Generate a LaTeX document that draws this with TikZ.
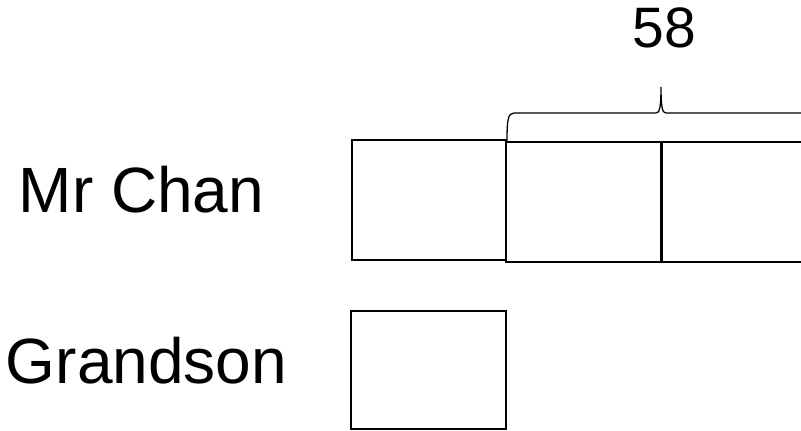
\documentclass[tikz,border=0pt]{standalone}
\usepackage{fontspec}
\setmainfont{Liberation Sans}
\begin{document}
\begin{tikzpicture}[x=1pt,y=-1pt,
  bar/.style={draw=black,line width=2pt,inner sep=0pt,outer sep=0pt,rectangle},
  label/.style={anchor=base,inner sep=0pt,font=\fontsize{64}{70}\selectfont},
  bracestyle/.style={draw=black,line width=1.3pt}]
\useasboundingbox (0,0) rectangle (801,431);
\clip (0,0) rectangle (801,431);
\fill[white] (0,0) rectangle (801,431);
% Mr Chan row
\node[bar,minimum width=154.5pt,minimum height=119.5pt] (c1) at (428.75,199.75) {};
\node[bar,minimum width=155pt,minimum height=120pt] (c2) at (583.5,201.7) {};
\node[bar,minimum width=154pt,minimum height=120pt] (c3) at (738,201.7) {};
\draw[line width=3pt] (c2.north east) -- (c2.south east);
% Grandson row
\node[bar,minimum width=155pt,minimum height=118.3pt] (g1) at (428.5,370.15) {};
% labels
\node[label] (lchan) at (141.5,212.3) {Mr Chan};
\node[label] (lgrand) at (146.5,383.3) {Grandson};
\node[label,font=\fontsize{57}{62}\selectfont] (total) at (664.5,47.7) {58};
% brace
\coordinate (bl) at (507,141);
\coordinate (br) at (815,141);
\coordinate (tip) at (661,87);
\draw[bracestyle] (bl) .. controls (507,120) and (508,113) .. (514,113)
  -- (656,113) .. controls (659.5,113) and (661,108) .. (tip)
  .. controls (661,108) and (662.5,113) .. (666,113)
  -- (808,113) .. controls (814,113) and (815,120) .. (br);
\end{tikzpicture}
\end{document}
